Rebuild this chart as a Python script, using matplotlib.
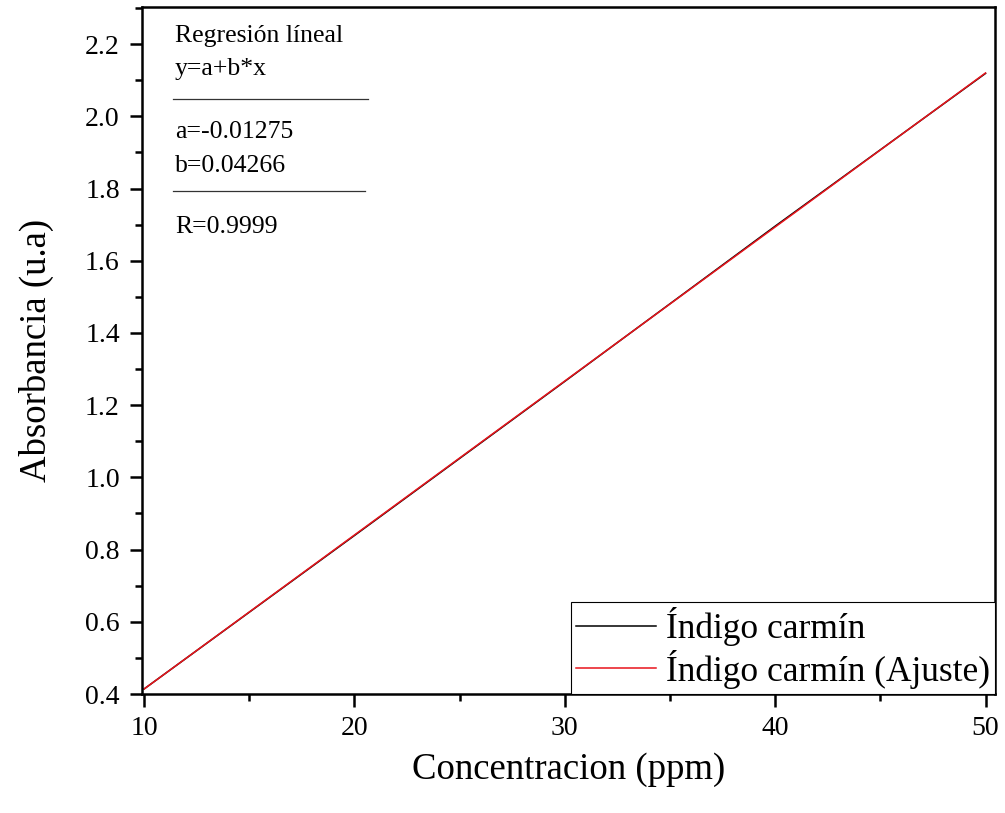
import matplotlib
matplotlib.use("Agg")
import matplotlib.pyplot as plt
from matplotlib.lines import Line2D
from matplotlib.ticker import MultipleLocator

plt.rcParams['font.family'] = ['Liberation Serif', 'DejaVu Serif']

# calibration data
conc = [10, 20, 30, 40, 50]
absorb = [0.414, 0.839, 1.266, 1.696, 2.119]

# linear fit y = a + b*x
a_fit = -0.01275
b_fit = 0.04266
r_fit = 0.9999
fit = [a_fit + b_fit * c for c in conc]

W, H = 1005, 813
fig = plt.figure(figsize=(W / 100, H / 100), dpi=100)
ax = fig.add_axes([142 / W, 1 - 694 / H, (995 - 142) / W, (694 - 7) / H])

ax.plot(conc, absorb, color='black', lw=1.1, label='Índigo carmín')
ax.plot(conc, fit, color='#e8141b', lw=1.1, label='Índigo carmín (Ajuste)')

ax.set_xlim(9.9, 50.45)
ax.set_ylim(0.4, 2.303)
ax.xaxis.set_major_locator(MultipleLocator(10))
ax.xaxis.set_minor_locator(MultipleLocator(5))
ax.yaxis.set_major_locator(MultipleLocator(0.2))
ax.yaxis.set_minor_locator(MultipleLocator(0.1))
ax.yaxis.set_major_formatter(plt.FormatStrFormatter('%.1f'))

for s in ax.spines.values():
    s.set_linewidth(1.8)
ax.tick_params(which='both', direction='out', width=1.8, top=False, right=False)
ax.tick_params(which='major', length=9, labelsize=20, pad=7)
ax.tick_params(which='minor', length=5)

ax.set_xlabel('Concentracion (ppm)', fontsize=26.5, labelpad=8)
ax.set_ylabel('Absorbancia (u.a)', fontsize=26.5, labelpad=22)

leg = ax.legend(loc='lower right', bbox_to_anchor=(1, 0), borderaxespad=0,
                fontsize=25.5, fancybox=False, framealpha=1, edgecolor='black',
                handlelength=2.25, handletextpad=0.28, borderpad=0.15,
                labelspacing=0.1)
leg.get_frame().set_linewidth(0.8)

# fit statistics panel (pixel positions converted to figure fractions)
def fx(px):
    return px / W

def fy(py):
    return 1 - py / H

stats = [
    ('Regresión líneal', 42),
    ('y=a+b*x', 75),
    (f'a={a_fit}', 138),
    (f'b={b_fit}', 172),
    (f'R={r_fit}', 233),
]
for txt, base in stats:
    fig.text(fx(175), fy(base), txt, fontsize=18.5, va='baseline', ha='left')

for y, x1 in [(99, 368), (191, 365)]:
    fig.add_artist(Line2D([fx(173), fx(x1)], [fy(y), fy(y)], color='#333333', lw=0.9))

fig.savefig('out.png', dpi=100)
